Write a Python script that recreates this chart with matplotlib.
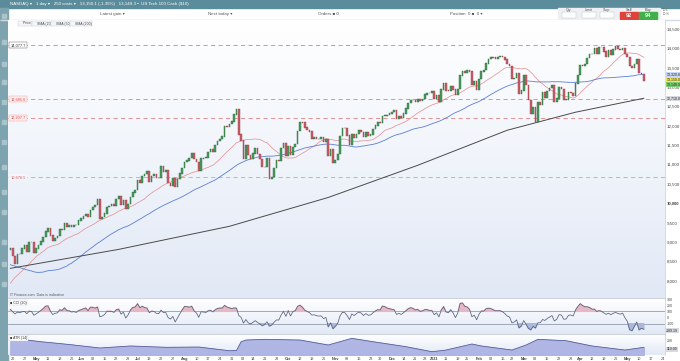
import numpy as np
import pandas as pd
import matplotlib
matplotlib.use("Agg")
import matplotlib.pyplot as plt
from matplotlib.colors import LinearSegmentedColormap
from matplotlib.patches import Rectangle

plt.rcParams['font.family'] = ['Liberation Sans', 'DejaVu Sans']

W, H = 680, 361

# NASDAQ 100 daily closes, Feb 5 - Apr 16 2020 (only used to warm up the averages)
warmup = [9508, 9576, 9520, 9628, 9638, 9726, 9712, 9731, 9733, 9818, 9750, 9446, 9085, 8821,
          8858, 8436, 8462, 8877, 8604, 8951, 8658, 8531, 7948, 8331, 7994, 7262, 7994, 7020,
          7470, 7175, 7289, 6994, 7006, 7553, 7504, 7798, 7502, 7814, 7813, 7487, 7637, 7529,
          8083, 8060, 8291, 8238, 8393, 8715, 8604, 8794]

# daily closes shown on the chart, Apr 17 2020 - May 12 2021
c_apr20 = [8832, 8640, 8449, 8697, 8691, 8833, 8918, 8735, 9007, 9000]
c_may20 = [8719, 8834, 8931, 9014, 9136, 9275, 9355, 9167, 9035, 9111, 9152, 9331, 9320, 9495,
           9401, 9425, 9396, 9440, 9431, 9556]
c_jun20 = [9608, 9669, 9730, 9647, 9833, 9906, 9954, 10108, 9587, 9649, 9738, 9902, 9934, 9968,
           9946, 10108, 10184, 9967, 10070, 9849, 9975, 10157]
c_jul20 = [10281, 10341, 10604, 10521, 10707, 10752, 10825, 10547, 10712, 10747, 10650, 10655,
           10946, 10810, 10850, 10524, 10461, 10637, 10436, 10626, 10770, 10905]
c_aug20 = [11060, 11107, 11163, 11304, 11139, 11064, 10847, 11154, 11177, 11178, 11316, 11399,
           11339, 11504, 11608, 11664, 11720, 11978, 11977, 12047, 12110]
c_sep20 = [12292, 12421, 11772, 11622, 11141, 11491, 11252, 11150, 11286, 11430, 11280, 11145,
           10936, 10938, 11152, 10632, 10672, 10914, 11117, 11085, 11418]
c_oct20 = [11549, 11227, 11485, 11247, 11450, 11524, 11864, 12088, 12086, 11952, 11896, 11852,
           11654, 11704, 11662, 11666, 11706, 11583, 11666, 11215, 11386, 11052]
c_nov20 = [11111, 11276, 11731, 11948, 11937, 11749, 11506, 11789, 11691, 11787, 11880, 11841,
           11719, 11836, 11744, 11778, 11914, 12011, 12093, 12069]
c_dec20 = [12246, 12268, 12279, 12320, 12360, 12395, 12173, 12246, 12212, 12320, 12447, 12595,
           12673, 12669, 12623, 12689, 12637, 12692, 12805, 12850, 12851, 12888]
c_jan21 = [12694, 12802, 12623, 12939, 13105, 12908, 12902, 13027, 12939, 12803, 12947, 13297,
           13404, 13366, 13442, 13404, 13051, 13141, 12925]
c_feb21 = [13203, 13403, 13432, 13610, 13716, 13778, 13766, 13737, 13782, 13807, 13782, 13707,
           13587, 13535, 13204, 13227, 13346, 12829, 12909]
c_mar21 = [13297, 13057, 12658, 12299, 12470, 12110, 12600, 12539, 12866, 12725, 12897, 12976,
           13057, 12624, 12700, 12988, 12944, 12669, 12675, 12868, 12850, 12780, 13091]
c_apr21 = [13316, 13566, 13547, 13597, 13741, 13846, 13850, 13996, 13848, 14041, 14041, 13914,
           13786, 13950, 13818, 13967, 14053, 13990, 13951, 14005, 13860]
c_may21 = [13775, 13544, 13497, 13597, 13720, 13359, 13329, 13150]

holidays = ["2020-05-25", "2020-07-03", "2020-09-07", "2020-11-26", "2020-12-25",
            "2021-01-01", "2021-01-18", "2021-02-15", "2021-04-02", "2021-05-31"]

# horizontal levels drawn on the chart
levels = [14077.7, 12685.6, 12207.7, 10676.5]
level_text = ["14,077.7", "12,685.6", "12,207.7", "10,676.5"]

# 200 day average (trading day index, value)
sma200_idx = [0, 46, 93, 135, 173, 211, 240, 269]
sma200_val = [8320, 8810, 9405, 10150, 10980, 11885, 12350, 12710]

# ATR (14)
atr_idx = [0, 13, 25, 38, 51, 66, 80, 93, 96, 98, 100, 108, 123, 135, 145, 154, 168, 179,
           185, 196, 200, 213, 219, 224, 236, 247, 261, 269]
atr_val = [243, 190, 150, 100, 129, 110, 114, 61, 65, 190, 214, 224, 214, 143, 238, 190, 119,
           47, 71, 157, 129, 71, 143, 224, 204, 129, 71, 110]

closes = np.array(c_apr20 + c_may20 + c_jun20 + c_jul20 + c_aug20 + c_sep20 + c_oct20 + c_nov20
                  + c_dec20 + c_jan21 + c_feb21 + c_mar21 + c_apr21 + c_may21, dtype=float)
n = len(closes)
full = pd.Series(np.r_[np.array(warmup, dtype=float), closes])
opens = full.shift(1).to_numpy()[-n:]
sma20 = full.rolling(20).mean().to_numpy()[-n:]
sma50 = full.rolling(50).mean().to_numpy()[-n:]
mean_dev = full.rolling(20).apply(lambda v: np.mean(np.abs(v - v.mean())), raw=True)
cci = ((full - full.rolling(20).mean()) / (0.015 * mean_dev)).to_numpy()[-n:]

days = pd.bdate_range("2020-04-17", "2021-05-28")
days = days[~days.isin(pd.to_datetime(holidays))]
assert len(days[days <= "2021-05-12"]) == n
x = np.arange(n)


def px(x0, y0, x1, y1):
    return [x0 / W, 1 - y1 / H, (x1 - x0) / W, (y1 - y0) / H]


fig = plt.figure(figsize=(W / 100, H / 100), dpi=100)
fig.patch.set_facecolor("white")

# window chrome drawn in pixel coordinates
chrome = fig.add_axes([0, 0, 1, 1], zorder=0)
chrome.set_xlim(0, W)
chrome.set_ylim(H, 0)
chrome.axis("off")
chrome.add_patch(Rectangle((0, 0), W, 8, color="#5b8c9c"))
chrome.add_patch(Rectangle((0, 8), 8, H - 8, color="#7da4ae"))
chrome.add_patch(Rectangle((0, 19.5), W, 0.6, color="#d5dbe3"))
for yy in [14, 40, 62, 80, 100, 120, 140, 165, 190, 210, 240, 262, 282]:
    chrome.add_patch(Rectangle((2, yy), 4, 4, color="#a9c3ca"))
chrome.text(10, 4.2, "NASDAQ \u25be   1 day \u25be   250 costs \u25be   13,150.1 (-1.35%)   13,149.3 \u25aa  US Tech 100 Cash ($10)",
            fontsize=3.2, color="white", va="center")
for tx, lab in [(100, "Latest gain \u25be"), (208, "Next today \u25be"), (318, "Orders \u25a0 0"),
                (450, "Position  0 \u25a0  0 \u25be")]:
    chrome.text(tx, 14, lab, fontsize=3.2, color="#555555", va="center")
chrome.add_patch(Rectangle((558, 8), 102, 11.5, color="#eef0f3"))
for bx, lab in [(562, "Qty"), (582, "Limit"), (600, "Stop")]:
    chrome.text(bx + 7, 10.2, lab, fontsize=2.6, color="#555555", ha="center", va="center")
    chrome.add_patch(Rectangle((bx, 12), 14, 6, facecolor="white", edgecolor="#b8bec6", lw=0.3))
chrome.add_patch(Rectangle((620, 12), 18, 7, color="#e0413a"))
chrome.add_patch(Rectangle((639, 12), 18, 7, color="#3fb04a"))
chrome.text(629, 10, "Sell", fontsize=2.8, color="#444444", ha="center", va="center")
chrome.text(648, 10, "Buy", fontsize=2.8, color="#444444", ha="center", va="center")
chrome.text(629, 15.6, "92", fontsize=4, color="white", ha="center", va="center", weight="bold")
chrome.text(648, 15.6, "94", fontsize=4, color="white", ha="center", va="center", weight="bold")
chrome.text(663, 12, "\u25a1 L\n\u25a1 S", fontsize=2.6, color="#666666", va="center", linespacing=1.2)

grad = LinearSegmentedColormap.from_list("bg", ["#ffffff", "#e2e9f6"])


def panel(rect):
    ax = fig.add_axes(px(*rect), zorder=1)
    ax.imshow(np.linspace(0, 1, 64).reshape(-1, 1), cmap=grad, aspect="auto",
              extent=[0, 1, 0, 1], transform=ax.transAxes, zorder=0)
    ax.set_xlim(-1, n + 8)
    for s in ["left", "top", "bottom"]:
        ax.spines[s].set_visible(False)
    ax.spines["right"].set_color("#c5ccd6")
    ax.spines["right"].set_linewidth(0.5)
    ax.yaxis.tick_right()
    ax.tick_params(axis="y", length=0, pad=1.2, labelsize=3.2, labelcolor="#444444")
    ax.set_xticks([])
    return ax


# main price panel
ax = panel((8, 20, 665, 298))
ax.set_ylim(7555, 14730)
ticks = np.arange(8000, 14501, 500)
ax.set_yticks(ticks)
ax.set_yticklabels([f"{t:,}" for t in ticks])
for lab in ax.get_yticklabels():
    if lab.get_text() == "10,000":
        lab.set_fontweight("bold")
        lab.set_fontsize(3.1)

for lv, lt, col in zip(levels, level_text, ["#9a9a9a", "#e28080", "#e28080", "#e29a9a"]):
    grey = col == "#9a9a9a"
    ax.axhline(lv, color=col, lw=0.6, ls=(0, (5, 4)), zorder=1)
    ax.text(0.004, lv, lt, transform=ax.get_yaxis_transform(), fontsize=2.8,
            color="#333333" if grey else "#d05050", va="center",
            bbox=dict(boxstyle="square,pad=0.3", fc="white" if grey else "#fdeeee",
                      ec="#555555" if grey else "#e8a0a0", lw=0.3) if lv != levels[-1] else
            dict(boxstyle="square,pad=0.3", fc="#f4f6fb", ec="none"), zorder=4)

ax.plot(x, sma20, color="#e48b8b", lw=0.5, zorder=2)
ax.plot(x, sma50, color="#5b7fd4", lw=0.6, zorder=2)
ax.plot(sma200_idx, sma200_val, color="#4a4a4a", lw=0.7, zorder=2)

up = closes >= opens
body_col = np.where(up, "#479c5c", "#c95e68")
edge_col = np.where(up, "#2f6b3f", "#9a3d47")
ax.bar(x, np.abs(closes - opens) + 8, bottom=np.minimum(opens, closes) - 4, width=0.7,
       color=body_col, edgecolor=edge_col, linewidth=0.3, zorder=3)

lab_tr = ax.get_yaxis_transform()
for val, txt, fc in [(sma50[-1], f"{sma50[-1]:,.1f}", "#c9d6f5"),
                     (closes[-1] + 40, f"{closes[-1]:,.1f}", "#f2e35a"),
                     (closes[-1] - 80, f"{closes[-1] - 1:,.1f}", "#7ccf6e"),
                     (sma200_val[-1], f"{sma200_val[-1]:,.1f}", "#d7dbe0")]:
    ax.text(1.002, val, txt, transform=lab_tr, fontsize=2.5, va="center", ha="left",
            color="#222222", bbox=dict(boxstyle="square,pad=0.15", fc=fc, ec="none"), zorder=5)

ax.text(0.003, 0.003, "IT Finance.com  Data is indicative", transform=ax.transAxes,
        fontsize=2.6, color="#555555", va="bottom")

# legend row
chrome.text(11, 23.5, "\u2228  \u2039", fontsize=3, color="#555555", va="center", zorder=5)
for lab, col, lx in [("Price", "#3f9f5f", 19), ("SMA (20)", "#e07070", 33),
                     ("SMA (50)", "#3b5fcf", 52), ("SMA (200)", "#222222", 71)]:
    fig.text(lx / W, 1 - 23.5 / H, "    " + lab, fontsize=2.5, color="#444444",
             va="center", zorder=5,
             bbox=dict(boxstyle="square,pad=0.2", fc="#f4f5f7", ec="#c8ccd2", lw=0.3))
    chrome.add_patch(Rectangle((lx + 0.8, 22.3), 2.4, 2.4, color=col, zorder=6))

# CCI panel
ac = panel((8, 298, 665, 334))
ac.spines["top"].set_visible(True)
ac.spines["top"].set_color("#b8c0cc")
ac.spines["top"].set_linewidth(0.5)
ac.set_ylim(-267, 317)
ac.set_yticks([300, 200, 100, 0, -100])
ac.set_yticklabels(["300", "200", "100", "0", "-100"])
ac.tick_params(axis="y", labelsize=2.6)
for lv in [100, -100]:
    ac.axhline(lv, color="#7f8ba0", lw=0.5, zorder=1)
cc = np.clip(cci, -260, 310)
ac.fill_between(x, cc, 100, where=cc > 100, color="#e4b8c4", interpolate=True, zorder=1)
ac.fill_between(x, cc, -100, where=cc < -100, color="#a9b8dc", interpolate=True, zorder=1)
ac.plot(x, cc, color="#56607a", lw=0.55, zorder=2)
ac.text(0.003, 0.93, "\u25a0 CCI (20)", transform=ac.transAxes, fontsize=2.6, color="#333333", va="top",
        bbox=dict(boxstyle="square,pad=0.2", fc="white", ec="#c8ccd2", lw=0.3))
ac.text(1.002, -215, f"{cci[-1]:.2f}", transform=ac.get_yaxis_transform(), fontsize=2.5,
        va="center", color="#222222", bbox=dict(boxstyle="square,pad=0.15", fc="#d7dbe0", ec="none"))

# ATR panel
aa = panel((8, 334, 665, 355))
aa.spines["top"].set_visible(True)
aa.spines["top"].set_color("#b8c0cc")
aa.spines["top"].set_linewidth(0.5)
aa.set_ylim(0, 300)
aa.set_yticks([200])
aa.tick_params(axis="y", labelsize=2.6)
aa.fill_between(atr_idx, atr_val, 0, color="#aab0e2", alpha=0.9, zorder=1)
aa.plot(atr_idx, atr_val, color="#4f5a94", lw=0.55, zorder=2)
aa.text(0.003, 0.9, "\u25a0 ATR (14)", transform=aa.transAxes, fontsize=2.6, color="#333333", va="top",
        bbox=dict(boxstyle="square,pad=0.2", fc="white", ec="#c8ccd2", lw=0.3))
aa.text(1.002, 80, f"{atr_val[-1]:.2f}", transform=aa.get_yaxis_transform(), fontsize=2.5,
        va="center", color="#222222", bbox=dict(boxstyle="square,pad=0.15", fc="#d7dbe0", ec="none"))

# weekly date labels, month names on the first week of a month
tick_pos, tick_lab, tick_bold = [], [], []
prev = None
for i, d in enumerate(days):
    if prev is None or d.weekday() < prev.weekday() or (d - prev).days > 3:
        if i > 0:
            new_month = len(tick_pos) == 0 or d.month != days[tick_pos[-1]].month
            tick_pos.append(i)
            if new_month and d.day <= 7:
                tick_lab.append("2021" if (d.month == 1) else d.strftime("%b"))
                tick_bold.append(True)
            else:
                tick_lab.append(f"{d.day:02d}")
                tick_bold.append(False)
    prev = d
aa.set_xticks(tick_pos)
aa.set_xticklabels(tick_lab)
aa.tick_params(axis="x", length=0, pad=1.2, labelsize=2.8, labelcolor="#444444")
for lab, b in zip(aa.get_xticklabels(), tick_bold):
    if b:
        lab.set_fontweight("bold")
aa.set_xlim(-1, n + 8)

fig.savefig("out.png", dpi=100, facecolor="white")
